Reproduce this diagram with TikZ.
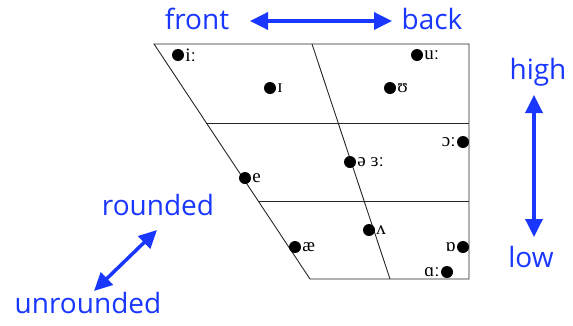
\documentclass[tikz,border=0pt]{standalone}
\usepackage{fontspec}
\setmainfont{Liberation Serif}
\newfontfamily\lblfont{Open Sans}
\usetikzlibrary{arrows.meta}
\definecolor{lblue}{RGB}{25,55,255}
\begin{document}
\begin{tikzpicture}[x=1pt,y=-1pt,
  vdot/.style={circle,fill=black,inner sep=0pt,minimum size=12pt},
  ipa/.style={font=\fontsize{19}{19}\selectfont,inner sep=1pt},
  lbl/.style={text=lblue,font=\lblfont\fontsize{28}{28}\selectfont,inner sep=0pt},
  chart/.style={draw=black!85,line width=0.9pt},
  barrow/.style={draw=lblue,line width=3.5pt,{Triangle[length=18pt,width=17pt]}-{Triangle[length=18pt,width=17pt]}}]
\useasboundingbox (0,0) rectangle (573,325);
% chart frame
\coordinate (TL) at (154,44);
\coordinate (TR) at (469,44);
\coordinate (BR) at (469,279);
\coordinate (BL) at (310,279);
\coordinate (M1) at (312,44);
\coordinate (M2) at (390,279);
\coordinate (L1) at (206,123);
\coordinate (R1) at (469,123);
\coordinate (L2) at (258,201);
\coordinate (R2) at (469,201);
\draw[chart] (TL) -- (TR) -- (BR) -- (BL) -- cycle;
\draw[chart] (M1) -- (M2);
\draw[chart] (L1) -- (R1);
\draw[chart] (L2) -- (R2);
% vowels
\node[vdot] (di) at (178,55) {};
\node[ipa,anchor=west] at (di.east) {iː};
\node[vdot] (dI) at (270,88) {};
\node[ipa,anchor=west] at (dI.east) {ɪ};
\node[vdot] (du) at (417,55) {};
\node[ipa,anchor=west] at (du.east) {uː};
\node[vdot] (dU) at (390,88) {};
\node[ipa,anchor=west] at (dU.east) {ʊ};
\node[vdot] (dO) at (463,142) {};
\node[ipa,anchor=east] at (dO.west) {ɔː};
\node[vdot] (dschwa) at (350,162) {};
\node[ipa,anchor=west] at (dschwa.east) {ə ɜː};
\node[vdot] (de) at (245,178) {};
\node[ipa,anchor=west] at (de.east) {e};
\node[vdot] (dV) at (369,230) {};
\node[ipa,anchor=west] at (dV.east) {ʌ};
\node[vdot] (dae) at (295,247) {};
\node[ipa,anchor=west] at (dae.east) {æ};
\node[vdot] (dQ) at (463,247) {};
\node[ipa,anchor=east] at (dQ.west) {ɒ};
\node[vdot] (dA) at (447,272) {};
\node[ipa,anchor=east] at (dA.west) {ɑː};
% labels
\node[lbl] (front) at (197,19) {front};
\node[lbl] (back) at (432,19) {back};
\node[lbl] (high) at (538,72) {high};
\node[lbl] (low) at (531,257) {low};
\node[lbl] (rounded) at (158,205) {rounded};
\node[lbl] (unrounded) at (88,303) {unrounded};
% arrows
\coordinate (fa) at (250,21);
\coordinate (ba) at (392,21);
\coordinate (ha) at (534,95);
\coordinate (la) at (534,237);
\coordinate (ra) at (157,230);
\coordinate (ua) at (94,291);
\draw[barrow] (fa) -- (ba);
\draw[barrow] (ha) -- (la);
\draw[barrow] (ra) -- (ua);
\end{tikzpicture}
\end{document}
